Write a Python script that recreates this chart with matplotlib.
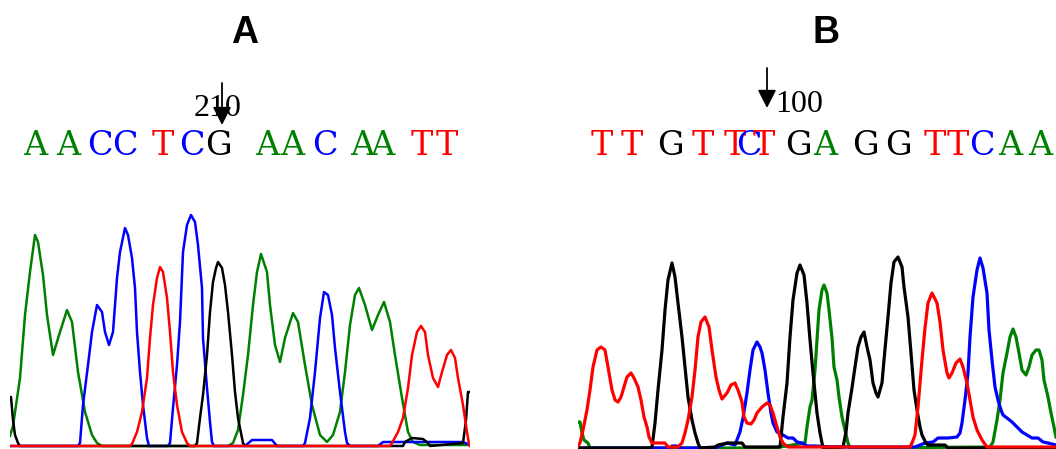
import matplotlib
matplotlib.use("Agg")
import matplotlib.pyplot as plt

W, H = 1056, 449

# ---- panel A traces: scan position, signal ----
a_green_x = [10, 13, 20, 25, 30, 35, 38, 43, 47, 53, 60, 67, 72, 78, 85, 92, 97, 102,
             228, 233, 238, 243, 248, 253, 257, 261, 267, 270, 275, 280, 285, 293, 298,
             305, 312, 320, 327, 333, 340, 345, 350, 355, 359, 365, 372, 378, 384, 390,
             395, 402, 408, 413, 420, 470]
a_green_y = [10, 20, 68, 131, 174, 211, 204, 171, 131, 91, 114, 136, 124, 74, 34, 11, 3, 0,
             0, 3, 16, 51, 91, 141, 174, 192, 174, 141, 101, 84, 108, 133, 124,
             81, 41, 11, 4, 11, 34, 74, 121, 151, 158, 141, 116, 131, 144, 124,
             91, 48, 14, 4, 1, 1]

a_blue_x = [10, 78, 80, 83, 88, 92, 97, 102, 105, 109, 113, 117, 120, 125, 128, 132, 135, 137,
            140, 143, 147, 149, 168, 170, 173, 177, 180, 183, 187, 191, 195, 198, 202, 203,
            207, 210, 212, 214, 245, 252, 272, 277, 303, 305, 310, 315, 320, 324, 328, 332,
            335, 340, 345, 347, 350, 378, 383, 392, 463, 470]
a_blue_y = [0, 0, 3, 41, 81, 114, 141, 134, 114, 101, 114, 168, 194, 218, 211, 188, 158, 114,
            74, 41, 8, 0, 0, 3, 38, 81, 124, 194, 221, 231, 224, 201, 158, 108,
            58, 24, 4, 0, 0, 6, 6, 0, 0, 3, 28, 74, 128, 154, 151, 131,
            98, 54, 14, 3, 0, 0, 4, 4, 4, 1]

a_red_x = [10, 130, 132, 137, 142, 147, 150, 153, 157, 160, 163, 167, 170, 173, 177, 182, 187,
           190, 390, 392, 398, 403, 408, 412, 417, 421, 425, 428, 433, 438, 442, 447, 451,
           455, 458, 463, 467, 469, 470]
a_red_y = [0, 0, 2, 14, 34, 68, 108, 141, 168, 179, 174, 148, 114, 74, 41, 14, 3,
           0, 0, 3, 14, 28, 58, 91, 114, 120, 114, 91, 68, 59, 74, 91, 96,
           88, 68, 41, 14, 2, 0]

a_black_x = [10, 11, 13, 15, 18, 20, 195, 197, 200, 203, 207, 210, 213, 216, 218, 222, 225,
             228, 232, 235, 238, 242, 243, 245, 403, 405, 412, 423, 428, 430, 463, 466, 468, 470]
a_black_y = [49, 49, 26, 11, 3, 0, 0, 3, 28, 51, 91, 134, 164, 178, 184, 178, 161,
             134, 91, 54, 28, 8, 3, 0, 0, 4, 8, 7, 3, 0, 3, 26, 54, 54]

# ---- panel B traces ----
b_red_x = [578, 580, 583, 587, 590, 593, 597, 601, 605, 608, 612, 615, 618, 621, 624, 627, 631,
           634, 638, 641, 644, 647, 649, 652, 665, 668, 678, 682, 685, 688, 692, 695, 698,
           701, 705, 709, 712, 716, 719, 722, 727, 731, 735, 738, 742, 744, 747, 751, 754,
           757, 762, 767, 770, 773, 777, 780, 783, 788, 910, 912, 915, 918, 922, 925, 928,
           932, 937, 940, 943, 947, 949, 952, 956, 960, 963, 967, 970, 973, 977, 982, 987,
           1056]
b_red_y = [2, 5, 18, 38, 58, 81, 98, 101, 98, 81, 58, 48, 46, 51, 61, 71, 75,
           70, 61, 48, 31, 21, 11, 5, 5, 1, 1, 5, 15, 28, 51, 78, 111,
           126, 131, 121, 98, 71, 58, 49, 55, 63, 65, 58, 46, 31, 25, 24, 28,
           35, 41, 45, 43, 35, 21, 11, 5, 1, 1, 5, 13, 41, 88, 120, 145,
           155, 145, 126, 98, 75, 70, 75, 85, 89, 81, 65, 48, 31, 18, 8, 1,
           1]

b_black_x = [578, 650, 652, 655, 658, 662, 665, 668, 672, 675, 678, 682, 685, 688, 692, 695,
             698, 700, 715, 718, 728, 742, 745, 780, 783, 787, 790, 793, 797, 800, 804, 807,
             810, 813, 817, 820, 823, 843, 846, 848, 852, 855, 858, 861, 864, 867, 870, 873,
             876, 878, 882, 884, 888, 891, 894, 898, 902, 904, 908, 911, 914, 917, 920, 922,
             926, 928, 930, 945, 948, 1056]
b_black_y = [0, 0, 1, 25, 58, 98, 138, 168, 185, 171, 145, 111, 81, 51, 28, 15,
             5, 0, 1, 3, 5, 5, 1, 1, 31, 65, 111, 148, 175, 183, 173, 145,
             108, 75, 35, 15, 0, 1, 16, 35, 60, 81, 101, 111, 116, 101, 88, 65,
             55, 51, 65, 88, 131, 165, 186, 191, 181, 161, 131, 95, 58, 38, 21, 13,
             5, 3, 3, 3, 0, 0]

b_blue_x = [578, 670, 672, 677, 680, 715, 727, 735, 740, 743, 747, 750, 753, 757, 760, 762,
            765, 768, 771, 773, 777, 780, 783, 788, 793, 797, 802, 807, 815, 835, 915, 925,
            933, 938, 948, 957, 960, 962, 965, 968, 970, 973, 977, 980, 983, 987, 989, 992,
            995, 998, 1001, 1003, 1007, 1012, 1017, 1022, 1027, 1032, 1038, 1043, 1048, 1056]
b_blue_y = [0, 0, 2, 2, 0, 0, 5, 3, 16, 30, 55, 78, 98, 106, 101, 95,
            78, 55, 35, 25, 16, 15, 13, 10, 10, 6, 5, 2, 2, 1, 1, 5,
            6, 10, 10, 11, 15, 25, 48, 75, 111, 151, 178, 190, 180, 155, 118, 88,
            61, 48, 38, 33, 30, 26, 21, 16, 13, 10, 10, 6, 5, 3]

b_green_x = [578, 580, 582, 584, 588, 590, 772, 780, 805, 807, 810, 812, 815, 817, 819, 822,
             824, 827, 829, 832, 834, 837, 839, 842, 845, 848, 850, 990, 993, 997, 1000, 1003,
             1007, 1010, 1013, 1016, 1019, 1022, 1026, 1029, 1032, 1036, 1039, 1042, 1044,
             1048, 1051, 1054, 1056]
b_green_y = [26, 26, 15, 8, 5, 0, 0, 1, 5, 21, 41, 48, 78, 108, 138, 158,
             163, 155, 138, 110, 81, 68, 51, 31, 18, 5, 0, 1, 6, 28, 48, 75,
             95, 111, 119, 111, 95, 78, 73, 81, 93, 98, 98, 88, 68,
             51, 35, 21, 11]

# ---- base calls ----
seq_a = "AACCTCGAACAATT"
seq_a_pos = [35, 68, 100, 125, 163, 192, 218, 267, 292, 325, 362, 382, 422, 447]
seq_b = "TTGTTCTGAGGTTCAA"
seq_b_pos = [602, 632, 670, 703, 735, 749, 764, 798, 825, 865, 898, 935, 958, 982, 1010, 1040]

base_col = {"A": "#008000", "C": "#0000FF", "G": "#000000", "T": "#FF0000"}

fig = plt.figure(figsize=(W / 100, H / 100), dpi=100)
fig.patch.set_facecolor("white")

axA = fig.add_axes([10 / W, 0, 460 / W, 250 / H])
axA.plot(a_green_x, a_green_y, color=base_col["A"], lw=1.8)
axA.plot(a_blue_x, a_blue_y, color=base_col["C"], lw=1.8)
axA.plot(a_black_x, a_black_y, color=base_col["G"], lw=1.8)
axA.plot(a_red_x, a_red_y, color=base_col["T"], lw=1.8)
axA.set_xlim(10, 470)
axA.set_ylim(-3, 247)
axA.axis("off")

axB = fig.add_axes([578 / W, 0, 478 / W, 250 / H])
axB.plot(b_green_x, b_green_y, color=base_col["A"], lw=2.3)
axB.plot(b_blue_x, b_blue_y, color=base_col["C"], lw=2.3)
axB.plot(b_black_x, b_black_y, color=base_col["G"], lw=2.3)
axB.plot(b_red_x, b_red_y, color=base_col["T"], lw=2.3)
axB.set_xlim(578, 1056)
axB.set_ylim(-1, 249)
axB.axis("off")

# overlay for labels, in pixel units
ov = fig.add_axes([0, 0, 1, 1])
ov.set_xlim(0, W)
ov.set_ylim(H, 0)
ov.axis("off")

ov.text(245, 33, "A", ha="center", va="center", fontsize=27,
        fontweight="bold", family="Liberation Sans")
ov.text(826, 33, "B", ha="center", va="center", fontsize=27,
        fontweight="bold", family="Liberation Sans")

for ch, xp in zip(seq_a, seq_a_pos):
    ov.text(xp, 146, ch, color=base_col[ch], ha="center", va="center",
            fontsize=24, family="DejaVu Serif")
for ch, xp in zip(seq_b, seq_b_pos):
    ov.text(xp, 146, ch, color=base_col[ch], ha="center", va="center",
            fontsize=24, family="DejaVu Serif")

ov.text(218, 108, "210", ha="center", va="center", fontsize=23,
        family="Liberation Serif")
ov.text(799, 105, "100", ha="center", va="center", fontsize=23,
        family="Liberation Serif")

arrow = dict(arrowstyle="-|>,head_length=0.55,head_width=0.28", color="black",
             lw=1.3, mutation_scale=20, shrinkA=0, shrinkB=0)
ov.annotate("", xy=(222, 125), xytext=(222, 83), arrowprops=arrow)
ov.annotate("", xy=(767, 108), xytext=(767, 68), arrowprops=arrow)

fig.savefig("out.png", dpi=100, facecolor="white")
